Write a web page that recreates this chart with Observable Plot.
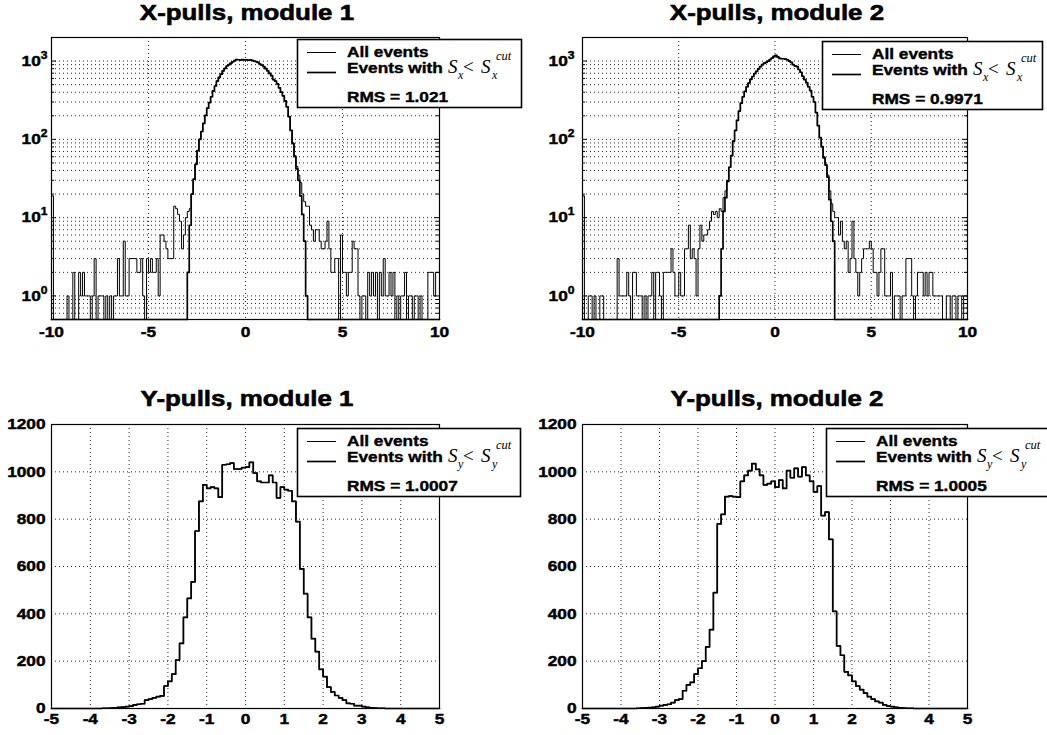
<!DOCTYPE html>
<html><head><meta charset="utf-8">
<script src="https://cdn.jsdelivr.net/npm/d3@7"></script>
<script src="https://cdn.jsdelivr.net/npm/@observablehq/plot@0.6"></script>
<style>
body{margin:0;background:#fff;}
#root{position:relative;width:1047px;height:735px;overflow:hidden;background:#fff;}
</style></head>
<body><div id="root"></div>
<script>
// ---------------- DATA ----------------
const xPullsBinStart = -10, xPullsBinWidth = 0.1;
const yPullsBinStart = -5, yPullsBinWidth = 0.1;

const xPullsAllModule1 = [
19,0,0,0,0,0,0,0,1,0,
0,2,0,0,2,1,2,1,1,1,
0,1,3,0,1,1,1,0,1,0,
1,0,1,1,3,1,1,5,1,1,
3,3,3,3,2,2,3,1,0,3,
2,3,2,2,3,1,6,6,5,4,
3,3,3,14,13,11,9,4,6,10,
12,13,20,31,48,72,100,126,160,203,
250,295,350,415,480,555,620,680,750,805,
865,900,940,980,1015,1045,1040,1030,1045,1035,
1040,1025,1035,1020,1000,985,960,915,885,850,
800,750,695,650,580,555,510,455,400,360,
310,260,195,130,90,62,45,35,28,20,
16,14,14,8,7,5,7,7,5,4,
4,5,9,4,2,2,3,3,0,6,
2,2,1,2,2,5,4,4,1,0,
1,1,0,2,1,2,1,2,0,2,
1,3,1,1,2,1,2,0,1,0,
1,1,2,0,1,1,0,1,1,0,
1,0,0,0,2,2,2,1,2,2];
const xPullsCutModule1 = [
0,0,0,0,0,0,0,0,0,0,
0,0,0,0,0,0,0,0,0,0,
0,0,0,0,0,0,0,0,0,0,
0,0,0,0,0,0,0,0,0,0,
0,0,0,0,0,0,0,0,0,0,
0,0,0,0,0,0,0,0,0,0,
0,0,0,0,0,0,0,0,0,0,
2,8,20,31,48,72,100,126,160,203,
250,295,350,415,480,555,620,680,750,805,
865,900,940,980,1015,1045,1040,1030,1045,1035,
1040,1025,1035,1020,1000,985,960,915,885,850,
800,750,695,650,580,555,510,455,400,360,
310,260,195,130,88,60,42,30,19,11,
5,1,0,0,0,0,0,0,0,0,
0,0,0,0,0,0,0,0,0,0,
0,0,0,0,0,0,0,0,0,0,
0,0,0,0,0,0,0,0,0,0,
0,0,0,0,0,0,0,0,0,0,
0,0,0,0,0,0,0,0,0,0,
0,0,0,0,0,0,0,0,0,0];
const xPullsAllModule2 = [
19,0,0,1,1,0,1,0,0,1,
1,0,0,0,0,0,0,0,3,1,
1,1,1,2,1,0,2,2,1,1,
1,0,1,0,1,1,2,0,2,2,
1,0,2,2,2,2,4,2,1,1,
2,1,1,4,4,8,3,4,3,1,
4,8,5,6,6,7,9,12,11,12,
10,13,12,18,22,30,44,62,95,130,
175,230,290,350,410,470,525,585,635,690,
740,795,850,900,940,965,1000,1045,1090,1150,
1180,1130,1085,1070,1070,1060,1040,1000,960,900,
870,850,780,720,640,580,530,470,420,350,
300,220,150,105,82,60,48,35,22,15,
12,10,10,6,9,5,4,5,2,3,
9,3,2,1,2,3,4,4,4,5,
4,2,2,1,2,4,4,1,1,1,
2,0,1,1,1,0,1,1,3,3,
3,1,0,1,2,2,2,1,2,1,
2,2,1,1,1,1,1,0,0,1,
1,0,1,1,0,1,1,0,1,1];
const xPullsCutModule2 = [
0,0,0,0,0,0,0,0,0,0,
0,0,0,0,0,0,0,0,0,0,
0,0,0,0,0,0,0,0,0,0,
0,0,0,0,0,0,0,0,0,0,
0,0,0,0,0,0,0,0,0,0,
0,0,0,0,0,0,0,0,0,0,
0,0,0,0,0,0,0,0,0,0,
0,1,4,12,18,29,44,62,95,130,
175,230,290,350,410,470,525,585,635,690,
740,795,850,900,940,965,1000,1045,1090,1150,
1180,1130,1085,1070,1070,1060,1040,1000,960,900,
870,850,780,720,640,580,530,470,420,350,
300,220,150,105,80,58,47,33,17,9,
5,0,0,0,0,0,0,0,0,0,
0,0,0,0,0,0,0,0,0,0,
0,0,0,0,0,0,0,0,0,0,
0,0,0,0,0,0,0,0,0,0,
0,0,0,0,0,0,0,0,0,0,
0,0,0,0,0,0,0,0,0,0,
0,0,0,0,0,0,0,0,0,0];

const yPullsAllModule1 = [
0,0,0,0,0,0,0,0,0,0,
0,0,0,1,1,2,3,5,6,8,
10,15,18,20,35,40,45,50,53,95,
115,145,205,275,385,465,535,750,875,945,
930,935,930,893,1030,1032,1037,1012,1012,1018,
1020,1040,995,960,955,955,985,955,890,935,
925,920,875,790,590,485,385,295,240,165,
135,90,70,55,45,35,22,20,12,12,
8,5,3,2,1,1,0,0,0,0,
0,0,0,0,0,0,0,0,0,0];
const yPullsCutModule1 = [
0,0,0,0,0,0,0,0,0,0,
0,0,0,1,1,2,3,5,6,8,
10,15,18,20,35,40,45,50,53,95,
115,145,205,275,385,465,535,750,875,945,
930,935,930,893,1030,1032,1037,1012,1012,1018,
1020,1040,995,960,955,955,985,955,890,935,
925,920,875,790,590,485,385,295,240,165,
135,90,70,55,45,35,22,20,12,12,
8,5,3,2,1,1,0,0,0,0,
0,0,0,0,0,0,0,0,0,0];
const yPullsAllModule2 = [
0,0,0,0,0,0,0,0,0,0,
0,0,0,0,1,2,3,4,5,8,
12,15,18,25,35,40,75,100,110,145,
170,200,260,333,490,780,820,895,897,895,
893,960,985,1005,1035,1010,985,945,950,960,
935,965,930,1005,975,1015,980,1020,985,960,
915,940,815,830,715,410,265,225,155,140,
115,95,80,65,50,40,30,25,15,10,
8,5,3,2,1,1,0,0,0,0,
0,0,0,0,0,0,0,0,0,0];
const yPullsCutModule2 = [
0,0,0,0,0,0,0,0,0,0,
0,0,0,0,1,2,3,4,5,8,
12,15,18,25,35,40,75,100,110,145,
170,200,260,333,490,780,820,895,897,895,
893,960,985,1005,1035,1010,985,945,950,960,
935,965,930,1005,975,1015,980,1020,985,960,
915,940,815,830,715,410,265,225,155,140,
115,95,80,65,50,40,30,25,15,10,
8,5,3,2,1,1,0,0,0,0,
0,0,0,0,0,0,0,0,0,0];

const xPullTicks = [-10, -5, 0, 5, 10];
const yPullTicks = [-5, -4, -3, -2, -1, 0, 1, 2, 3, 4, 5];
const logMajorTicks = [1, 10, 100, 1000];
const logMinorTicks = [0.6,0.7,0.8,0.9,2,3,4,5,6,7,8,9,20,30,40,50,60,70,80,90,200,300,400,500,600,700,800,900];
const countTicks = [0, 200, 400, 600, 800, 1000, 1200];

const panelTitles = ["X-pulls, module 1", "X-pulls, module 2", "Y-pulls, module 1", "Y-pulls, module 2"];
const legendAll = "All events";
const legendCutVars = ["x", "x", "y", "y"];
const rmsValues = ["1.021", "0.9971", "1.0007", "1.0005"];

// ---------------- DRAWING ----------------
const FONT = "'Liberation Sans', Arial, Helvetica, sans-serif";
const SERIF = "'Liberation Serif', 'Times New Roman', serif";
const STRETCH = 1.15;
const root = document.getElementById("root");

function stairs(values, start, width) {
  const pts = values.map((v, i) => ({x: start + i * width, v}));
  pts.push({x: start + values.length * width, v: values[values.length - 1]});
  return pts;
}

function stretchText(t, heavy) {
  const w = t.getComputedTextLength();
  if (w > 0) {
    t.setAttribute("textLength", (w * STRETCH).toFixed(2));
    t.setAttribute("lengthAdjust", "spacingAndGlyphs");
  }
  t.setAttribute("stroke", "#000");
  t.setAttribute("stroke-width", heavy);
  t.setAttribute("stroke-linejoin", "round");
}

function makePanel(cfg) {
  const fw = cfg.frame[1] - cfg.frame[0], fh = cfg.frame[3] - cfg.frame[2];
  const ml = cfg.frame[0] - cfg.left, mt = cfg.frame[2] - cfg.top;
  const mr = 22, mb = 26;
  const dotted = {stroke: "#000", strokeWidth: 1, strokeOpacity: 0.85, strokeDasharray: "1,3"};
  const marks = [];
  marks.push(Plot.ruleX(cfg.xTicks.slice(1, -1), dotted));
  if (cfg.log) {
    marks.push(Plot.ruleY(logMajorTicks, dotted));
    marks.push(Plot.ruleY(logMinorTicks, dotted));
    marks.push(Plot.ruleY(logMinorTicks, {stroke: "#000", insetRight: fw - 3}));
    marks.push(Plot.ruleY(logMinorTicks, {stroke: "#000", insetLeft: fw - 3}));
    marks.push(Plot.ruleY(logMajorTicks, {stroke: "#000", insetRight: fw - 5}));
    marks.push(Plot.ruleY(logMajorTicks, {stroke: "#000", insetLeft: fw - 5}));
  } else {
    marks.push(Plot.ruleY(countTicks.slice(1, -1), dotted));
  }
  marks.push(Plot.line(stairs(cfg.all, cfg.start, cfg.width), {x: "x", y: "v", curve: "step-after", stroke: "#000", strokeWidth: cfg.allWidth}));
  marks.push(Plot.line(stairs(cfg.cut, cfg.start, cfg.width), {x: "x", y: "v", curve: "step-after", stroke: "#000", strokeWidth: cfg.cutWidth}));
  marks.push(Plot.frame({stroke: "#000", strokeWidth: 1.2}));

  const svg = Plot.plot({
    width: ml + fw + mr, height: mt + fh + mb,
    marginLeft: ml, marginTop: mt, marginRight: mr, marginBottom: mb,
    style: {fontFamily: FONT, fontSize: "15px", fontWeight: "bold", color: "#000", background: "transparent", overflow: "visible"},
    x: {domain: [cfg.xTicks[0], cfg.xTicks[cfg.xTicks.length - 1]], ticks: cfg.xTicks, tickFormat: d => String(d), tickSize: 0, tickPadding: cfg.padX, label: null},
    y: cfg.log
      ? {type: "log", domain: [0.5, 2000], clamp: true, ticks: logMajorTicks, tickFormat: d => "10^" + Math.round(Math.log10(d)), tickSize: 0, tickPadding: cfg.padY, label: null}
      : {domain: [0, 1200], ticks: countTicks, tickFormat: d => String(d), tickSize: 0, tickPadding: cfg.padY, label: null},
    marks
  });
  svg.style.position = "absolute";
  svg.style.left = cfg.left + "px";
  svg.style.top = cfg.top + "px";
  root.appendChild(svg);
  for (const t of svg.querySelectorAll("text")) {
    const m = /^10\^(-?\d+)$/.exec(t.textContent.trim());
    if (m) {
      t.textContent = "10";
      const sp = document.createElementNS("http://www.w3.org/2000/svg", "tspan");
      sp.setAttribute("dy", "-7");
      sp.setAttribute("font-size", "10.5");
      sp.textContent = m[1];
      t.appendChild(sp);
    }
    stretchText(t, 0.45);
  }
}

const panels = [
  {left: 0, top: 0, frame: [51, 439, 37, 319], log: true, xTicks: xPullTicks, start: xPullsBinStart, width: xPullsBinWidth,
   all: xPullsAllModule1, cut: xPullsCutModule1, allWidth: 1.0, cutWidth: 1.7, padX: 7, padY: 4},
  {left: 520, top: 0, frame: [582, 967, 37, 319], log: true, xTicks: xPullTicks, start: xPullsBinStart, width: xPullsBinWidth,
   all: xPullsAllModule2, cut: xPullsCutModule2, allWidth: 1.0, cutWidth: 1.7, padX: 7, padY: 8},
  {left: 0, top: 380, frame: [51, 439, 424, 708], log: false, xTicks: yPullTicks, start: yPullsBinStart, width: yPullsBinWidth,
   all: yPullsAllModule1, cut: yPullsCutModule1, allWidth: 1.2, cutWidth: 1.7, padX: 5, padY: 6},
  {left: 520, top: 380, frame: [582, 967, 424, 708], log: false, xTicks: yPullTicks, start: yPullsBinStart, width: yPullsBinWidth,
   all: yPullsAllModule2, cut: yPullsCutModule2, allWidth: 1.2, cutWidth: 1.7, padX: 5, padY: 6}
];
panels.forEach(makePanel);

// ---------------- TITLES & LEGENDS (overlay) ----------------
const overlay = d3.create("svg")
  .attr("width", 1047).attr("height", 735)
  .style("position", "absolute").style("left", "0px").style("top", "0px")
  .style("font-family", FONT).style("font-weight", "bold");

const titlePos = [[247, 20], [777, 20], [247, 406], [777, 406]];
panelTitles.forEach((t, i) => {
  overlay.append("text").attr("class", "stretch title").attr("x", titlePos[i][0]).attr("y", titlePos[i][1])
    .attr("text-anchor", "middle").attr("font-size", 22.5).text(t);
});

const legendBoxes = [[297, 39, 224], [822, 41, 220], [297, 428, 223], [826, 428, 224]];
legendBoxes.forEach(([bx, by, bw], i) => {
  const g = overlay.append("g").attr("transform", `translate(${bx},${by})`);
  g.append("rect").attr("x", 0.5).attr("y", 0.5).attr("width", bw).attr("height", 68)
    .attr("fill", "#fff").attr("stroke", "#000").attr("stroke-width", 1.6);
  g.append("line").attr("x1", 10).attr("x2", 39).attr("y1", 13.5).attr("y2", 13.5)
    .attr("stroke", "#000").attr("stroke-width", 1.0);
  g.append("line").attr("x1", 10).attr("x2", 39).attr("y1", 33.5).attr("y2", 33.5)
    .attr("stroke", "#000").attr("stroke-width", 1.7);
  g.append("text").attr("class", "stretch").attr("x", 50).attr("y", 18).attr("font-size", 15).text(legendAll);
  g.append("text").attr("class", "stretch").attr("x", 50).attr("y", 34).attr("font-size", 15).text("Events with");
  g.append("text").attr("class", "stretch").attr("x", 50).attr("y", 63).attr("font-size", 15).text("RMS = " + rmsValues[i]);
  const v = legendCutVars[i];
  const m = g.append("g").style("font-family", SERIF).style("font-weight", "normal");
  m.append("text").attr("x", 151).attr("y", 34).attr("font-size", 19).attr("font-style", "italic").text("S");
  m.append("text").attr("x", 161).attr("y", 40).attr("font-size", 12).attr("font-style", "italic").text(v);
  m.append("text").attr("x", 166).attr("y", 34).attr("font-size", 19).text("<");
  m.append("text").attr("x", 184).attr("y", 34).attr("font-size", 19).attr("font-style", "italic").text("S");
  m.append("text").attr("x", 195).attr("y", 40).attr("font-size", 12).attr("font-style", "italic").text(v);
  m.append("text").attr("x", 199).attr("y", 21).attr("font-size", 12.5).attr("font-style", "italic").text("cut");
});
root.appendChild(overlay.node());
for (const t of overlay.node().querySelectorAll("text.stretch")) {
  stretchText(t, t.classList.contains("title") ? 0.6 : 0.4);
}
</script>
</body></html>
